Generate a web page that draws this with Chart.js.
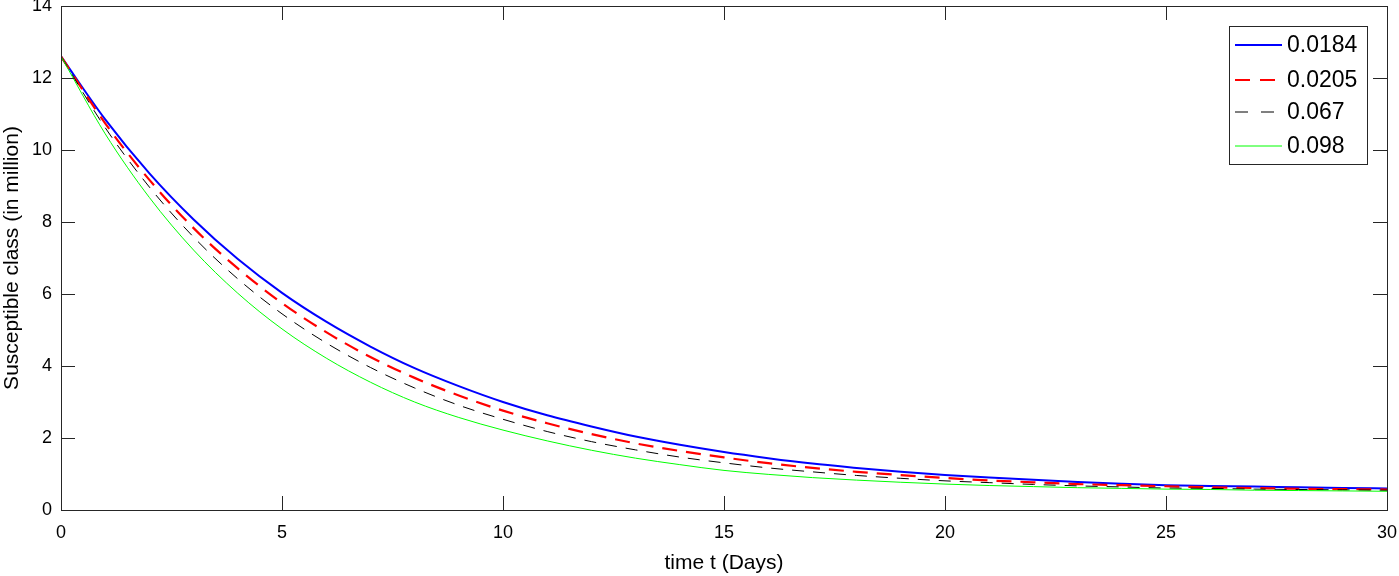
<!DOCTYPE html>
<html>
<head>
<meta charset="utf-8">
<script src="https://cdn.jsdelivr.net/npm/chart.js@4.4.1/dist/chart.umd.min.js"></script>
<style>
  html, body { margin: 0; padding: 0; background: #ffffff; }
  #wrap { width: 1399px; height: 576px; position: relative; }
</style>
</head>
<body>
<div id="wrap"><canvas id="c" width="1399" height="576"></canvas></div>
<script>
// ---- data ----
const days = [0,1,2,3,4,5,6,7,8,9,10,11,12,13,14,15,16,17,18,19,20,21,22,23,24,25,26,27,28,29,30];
const seriesLabels = ['0.0184', '0.0205', '0.067', '0.098'];
const s0184 = [12.60,10.85,9.35,8.07,6.97,6.03,5.23,4.54,3.94,3.44,3.00,2.63,2.32,2.04,1.81,1.61,1.44,1.29,1.17,1.06,0.97,0.90,0.84,0.78,0.73,0.69,0.67,0.65,0.63,0.61,0.60];
const s0205 = [12.60,10.74,9.17,7.83,6.71,5.75,4.94,4.25,3.67,3.18,2.76,2.41,2.11,1.85,1.64,1.46,1.30,1.17,1.06,0.97,0.89,0.82,0.77,0.72,0.69,0.66,0.63,0.61,0.59,0.58,0.57];
const s067  = [12.60,10.62,8.97,7.58,6.42,5.45,4.64,3.96,3.39,2.91,2.52,2.18,1.90,1.67,1.47,1.31,1.17,1.06,0.96,0.88,0.81,0.76,0.71,0.67,0.64,0.61,0.60,0.58,0.57,0.56,0.55];
const s098  = [12.60,10.45,8.68,7.22,6.02,5.03,4.22,3.55,3.00,2.57,2.22,1.92,1.66,1.44,1.26,1.10,0.99,0.90,0.83,0.77,0.72,0.68,0.65,0.62,0.60,0.58,0.57,0.55,0.54,0.53,0.52];
const xTicks = [0,5,10,15,20,25,30];
const yTicks = [0,2,4,6,8,10,12,14];

const AXIS = '#262626';
const FONT = "'Liberation Sans', Arial, Helvetica, sans-serif";

function pts(arr) { return days.map((d, i) => ({ x: d, y: arr[i] })); }

const styles = [
  { color: '#0000ff', width: 2,   dash: [],       legendDash: [] },
  { color: '#ff0000', width: 2.2, dash: [15, 9],  legendDash: [15, 10] },
  { color: '#000000', width: 1,   dash: [12, 9],  legendDash: [13, 13] },
  { color: '#00ff00', width: 1,   dash: [],       legendDash: [] }
];
const allSeries = [s0184, s0205, s067, s098];

const datasets = allSeries.map((s, i) => ({
  label: seriesLabels[i],
  data: pts(s),
  borderColor: styles[i].color,
  borderWidth: styles[i].width,
  borderDash: styles[i].dash,
  pointRadius: 0,
  fill: false,
  cubicInterpolationMode: 'monotone'
})).reverse(); // draw blue on top

const boxTicks = {
  id: 'boxTicks',
  afterDatasetsDraw(chart) {
    const { ctx, chartArea: a, scales } = chart;
    ctx.save();
    ctx.strokeStyle = AXIS;
    ctx.lineWidth = 1;
    ctx.setLineDash([]);
    const L = 14;
    ctx.beginPath();
    xTicks.forEach(v => {
      const px = Math.round(scales.x.getPixelForValue(v)) + 0.5;
      ctx.moveTo(px, a.bottom); ctx.lineTo(px, a.bottom - L);
      ctx.moveTo(px, a.top); ctx.lineTo(px, a.top + L);
    });
    yTicks.forEach(v => {
      const py = Math.round(scales.y.getPixelForValue(v)) + 0.5;
      ctx.moveTo(a.left, py); ctx.lineTo(a.left + L, py);
      ctx.moveTo(a.right, py); ctx.lineTo(a.right - L, py);
    });
    ctx.stroke();
    ctx.strokeRect(Math.round(a.left) + 0.5, Math.round(a.top) + 0.5,
                   Math.round(a.right - a.left), Math.round(a.bottom - a.top));
    ctx.restore();
  }
};

const boxLegend = {
  id: 'boxLegend',
  afterDraw(chart) {
    const { ctx, chartArea: a } = chart;
    const bx = a.right - 158, by = a.top + 20, bw = 138, bh = 138;
    ctx.save();
    ctx.fillStyle = '#ffffff';
    ctx.fillRect(bx, by, bw, bh);
    ctx.strokeStyle = AXIS;
    ctx.lineWidth = 1;
    ctx.strokeRect(Math.round(bx) + 0.5, Math.round(by) + 0.5, bw, bh);
    ctx.font = '23px ' + FONT;
    ctx.textBaseline = 'middle';
    ctx.fillStyle = '#000000';
    const rows = [19, 54, 86, 120];
    seriesLabels.forEach((lab, i) => {
      const y = by + rows[i];
      ctx.strokeStyle = styles[i].color;
      ctx.lineWidth = styles[i].width;
      ctx.setLineDash(styles[i].legendDash);
      ctx.beginPath();
      ctx.moveTo(bx + 6, y); ctx.lineTo(bx + 53, y);
      ctx.stroke();
      ctx.setLineDash([]);
      ctx.fillText(lab, bx + 58, y + 1);
    });
    ctx.restore();
  }
};

new Chart(document.getElementById('c'), {
  type: 'line',
  data: { datasets },
  options: {
    responsive: false,
    animation: false,
    layout: { padding: { top: 6, right: 12, left: 0, bottom: 0 } },
    plugins: { legend: { display: false }, tooltip: { enabled: false } },
    scales: {
      x: {
        type: 'linear', min: 0, max: 30,
        afterBuildTicks(scale) { scale.ticks = xTicks.map(v => ({ value: v })); },
        afterFit(scale) { scale.height = 66; scale.paddingLeft = 0; scale.paddingRight = 0; },
        grid: { display: false, drawTicks: false },
        border: { display: false },
        ticks: { color: '#000', padding: 12, maxRotation: 0, font: { family: FONT, size: 18 } },
        title: { display: true, text: 'time t (Days)', color: '#000', padding: { top: 0, bottom: 0 }, font: { family: FONT, size: 21 } }
      },
      y: {
        type: 'linear', min: 0, max: 14,
        afterBuildTicks(scale) { scale.ticks = yTicks.map(v => ({ value: v })); },
        afterFit(scale) { scale.width = 61; scale.paddingTop = 0; scale.paddingBottom = 0; },
        grid: { display: false, drawTicks: false },
        border: { display: false },
        ticks: { color: '#000', padding: 9, font: { family: FONT, size: 18 } },
        title: { display: true, text: 'Susceptible class (in million)', color: '#000', padding: { top: 0, bottom: 0 }, font: { family: FONT, size: 21 } }
      }
    }
  },
  plugins: [boxTicks, boxLegend]
});
</script>
</body>
</html>
